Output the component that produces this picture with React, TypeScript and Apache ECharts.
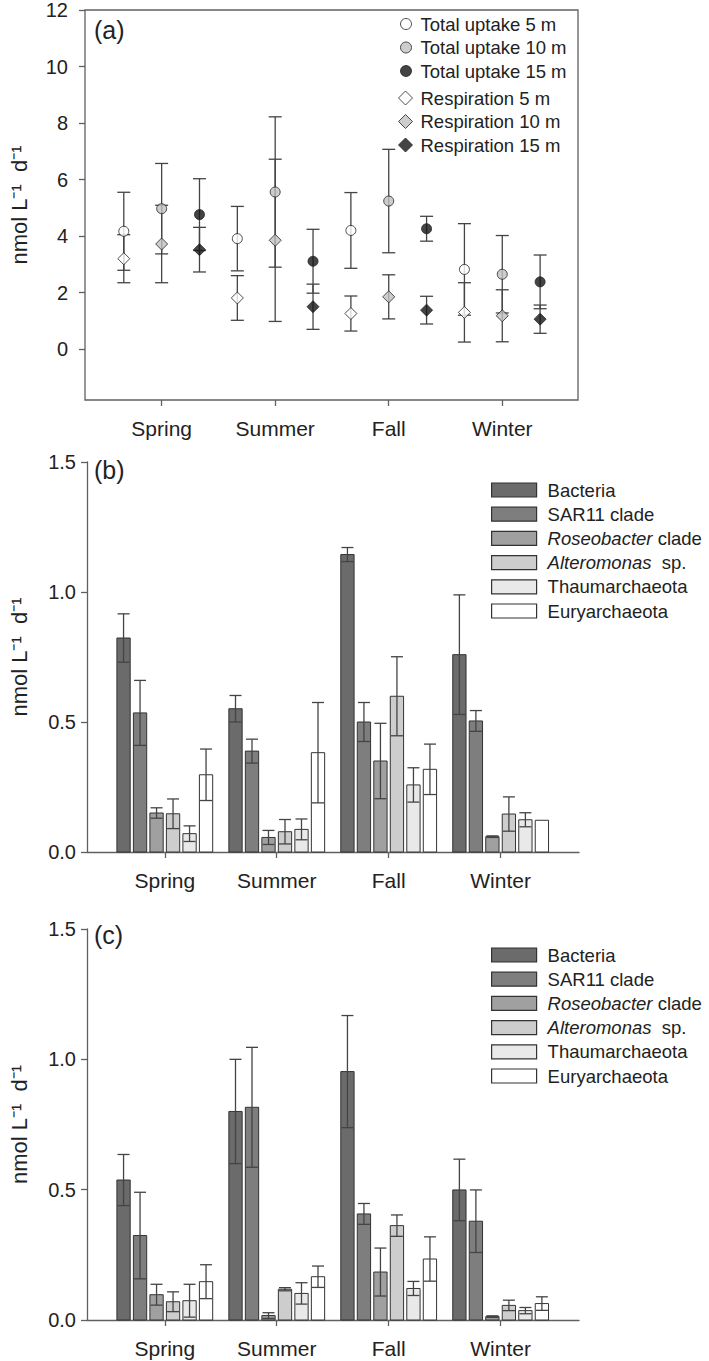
import React, { useEffect, useRef } from "react";
import * as echarts from "echarts";

const SEASONS = ["Spring", "Summer", "Fall", "Winter"];

// Panel (a): total uptake and respiration (nmol L-1 d-1), mean and error
const TU5 = [4.17, 3.91, 4.2, 2.82];
const TU5_ERR = [1.38, 1.14, 1.34, 1.62];
const TU10 = [4.97, 5.56, 5.24, 2.65];
const TU10_ERR = [1.6, 2.66, 1.83, 1.37];
const TU15 = [4.76, 3.11, 4.26, 2.38];
const TU15_ERR = [1.27, 1.13, 0.44, 0.95];
const R5 = [3.2, 1.81, 1.26, 1.3];
const R5_ERR = [0.85, 0.79, 0.62, 1.05];
const R10 = [3.72, 3.85, 1.85, 1.18];
const R10_ERR = [1.37, 2.87, 0.78, 0.92];
const R15 = [3.52, 1.5, 1.38, 1.06];
const R15_ERR = [0.79, 0.8, 0.49, 0.5];

// Panel (b)
const B_BACT = [0.823, 0.551, 1.144, 0.759];
const B_BACT_ERR = [0.093, 0.051, 0.027, 0.23];
const B_SAR11 = [0.535, 0.388, 0.5, 0.504];
const B_SAR11_ERR = [0.125, 0.046, 0.075, 0.04];
const B_ROSEO = [0.15, 0.056, 0.35, 0.059];
const B_ROSEO_ERR = [0.02, 0.027, 0.145, 0.003];
const B_ALT = [0.147, 0.078, 0.599, 0.146];
const B_ALT_ERR = [0.057, 0.047, 0.152, 0.066];
const B_THAUM = [0.0705, 0.087, 0.258, 0.124];
const B_THAUM_ERR = [0.03, 0.04, 0.066, 0.027];
const B_EURY = [0.297, 0.382, 0.318, 0.122];
const B_EURY_ERR = [0.099, 0.193, 0.097, 0];

// Panel (c)
const C_BACT = [0.537, 0.8, 0.953, 0.499];
const C_BACT_ERR = [0.098, 0.2, 0.215, 0.118];
const C_SAR11 = [0.324, 0.816, 0.407, 0.379];
const C_SAR11_ERR = [0.166, 0.23, 0.04, 0.12];
const C_ROSEO = [0.097, 0.017, 0.184, 0.013];
const C_ROSEO_ERR = [0.04, 0.011, 0.092, 0.003];
const C_ALT = [0.07, 0.118, 0.362, 0.056];
const C_ALT_ERR = [0.038, 0.006, 0.041, 0.02];
const C_THAUM = [0.074, 0.102, 0.121, 0.036];
const C_THAUM_ERR = [0.063, 0.041, 0.027, 0.012];
const C_EURY = [0.147, 0.166, 0.234, 0.063];
const C_EURY_ERR = [0.065, 0.041, 0.085, 0.026];

const A_TICKS = [0, 2, 4, 6, 8, 10, 12];

const TAXA = [
  "Bacteria",
  "SAR11 clade",
  "Roseobacter clade",
  "Alteromonas sp.",
  "Thaumarchaeota",
  "Euryarchaeota",
];
const TAXA_COLORS = ["#6b6b6b", "#7e7e7e", "#a0a0a0", "#cdcdcd", "#e9e9e9", "#ffffff"];

const FONT = "'Liberation Sans', Arial, Helvetica, sans-serif";
const TXT = "#222";
const AX = "#606060";
const ERRC = "#444";

export default function App() {
  const ref = useRef<HTMLDivElement>(null);

  useEffect(() => {
    if (!ref.current) return;
    const chart = echarts.init(ref.current, null, { renderer: "svg" });

    const catLabel = (v: number) => {
      const i = Math.round(v) - 1;
      return SEASONS[i] || "";
    };

    const xAxisBase = (gridIndex: number, min: number, max: number, showLine: boolean) => ({
      type: "value",
      gridIndex,
      min,
      max,
      splitLine: { show: false },
      axisLine: { show: showLine, onZero: false, lineStyle: { color: AX, width: 1.3 } },
      axisTick: {
        show: true,
        length: 6,
        customValues: [1, 2, 3, 4],
        lineStyle: { color: AX, width: 1.3 },
      },
      axisLabel: {
        customValues: [1, 2, 3, 4],
        formatter: catLabel,
        fontSize: 21,
        color: TXT,
        fontFamily: FONT,
        margin: 18,
      },
    });

    const yName = "nmol L\u207B\u00B9  d\u207B\u00B9";

    const yAxisA = {
      type: "value",
      gridIndex: 0,
      min: -1.8,
      max: 12,
      splitLine: { show: false },
      axisLine: { show: false, onZero: false },
      axisTick: { show: true, length: 6, customValues: A_TICKS, lineStyle: { color: AX, width: 1.3 } },
      axisLabel: {
        customValues: A_TICKS,
        fontSize: 20,
        color: TXT,
        fontFamily: FONT,
        margin: 17,
      },
      name: yName,
      nameLocation: "middle",
      nameGap: 55,
      nameRotate: 90,
      nameTextStyle: { fontSize: 22, color: TXT, fontFamily: FONT },
    };

    const yAxisBC = (gridIndex: number) => ({
      type: "value",
      gridIndex,
      min: 0,
      max: 1.5,
      interval: 0.5,
      splitLine: { show: false },
      axisLine: { show: true, onZero: false, lineStyle: { color: AX, width: 1.3 } },
      axisTick: { show: true, length: 6, lineStyle: { color: AX, width: 1.3 } },
      axisLabel: {
        fontSize: 20,
        color: TXT,
        fontFamily: FONT,
        margin: 11,
        formatter: (v: number) => v.toFixed(1),
      },
      name: yName,
      nameLocation: "middle",
      nameGap: 57,
      nameRotate: 90,
      nameTextStyle: { fontSize: 22, color: TXT, fontFamily: FONT },
    });

    // ---------- Panel (a) ----------
    const aSets = [
      { name: "Total uptake 5 m", vals: TU5, errs: TU5_ERR, off: -1 / 3, sym: "circle", fill: "#ffffff" },
      { name: "Total uptake 10 m", vals: TU10, errs: TU10_ERR, off: 0, sym: "circle", fill: "#c0c0c0" },
      { name: "Total uptake 15 m", vals: TU15, errs: TU15_ERR, off: 1 / 3, sym: "circle", fill: "#151515" },
      { name: "Respiration 5 m", vals: R5, errs: R5_ERR, off: -1 / 3, sym: "diamond", fill: "#ffffff" },
      { name: "Respiration 10 m", vals: R10, errs: R10_ERR, off: 0, sym: "diamond", fill: "#c0c0c0" },
      { name: "Respiration 15 m", vals: R15, errs: R15_ERR, off: 1 / 3, sym: "diamond", fill: "#151515" },
    ];

    const aErrData: number[][] = [];
    aSets.forEach((s) => {
      s.vals.forEach((v, i) => aErrData.push([i + 1 + s.off, v, s.errs[i]]));
    });

    const errRender = (capW: number) => (params: any, api: any) => {
      const x = api.value(0);
      const v = api.value(1);
      const e = api.value(2);
      const hi = api.coord([x, v + e]);
      const lo = api.coord([x, v - e]);
      const st = { stroke: ERRC, lineWidth: 1.3 };
      return {
        type: "group",
        children: [
          { type: "line", shape: { x1: hi[0], y1: hi[1], x2: lo[0], y2: lo[1] }, style: st },
          { type: "line", shape: { x1: hi[0] - capW / 2, y1: hi[1], x2: hi[0] + capW / 2, y2: hi[1] }, style: st },
          { type: "line", shape: { x1: lo[0] - capW / 2, y1: lo[1], x2: lo[0] + capW / 2, y2: lo[1] }, style: st },
        ],
      };
    };

    const aSeries: any[] = [
      {
        type: "custom",
        name: "errA",
        xAxisIndex: 0,
        yAxisIndex: 0,
        renderItem: errRender(13),
        data: aErrData,
        z: 2,
        silent: true,
      },
      ...aSets.map((s) => ({
        type: "scatter",
        name: s.name,
        xAxisIndex: 0,
        yAxisIndex: 0,
        symbol: s.sym,
        symbolSize: s.sym === "circle" ? 10 : 12,
        itemStyle: { color: s.fill, borderColor: "#222", borderWidth: 1 },
        data: s.vals.map((v, i) => [i + 1 + s.off, v]),
        z: 3,
      })),
    ];

    // ---------- Panels (b), (c) ----------
    const PITCH = 16.5;
    const BW = 13.3;
    const CAPW = 12;

    const bSets = [
      [B_BACT, B_BACT_ERR],
      [B_SAR11, B_SAR11_ERR],
      [B_ROSEO, B_ROSEO_ERR],
      [B_ALT, B_ALT_ERR],
      [B_THAUM, B_THAUM_ERR],
      [B_EURY, B_EURY_ERR],
    ];
    const cSets = [
      [C_BACT, C_BACT_ERR],
      [C_SAR11, C_SAR11_ERR],
      [C_ROSEO, C_ROSEO_ERR],
      [C_ALT, C_ALT_ERR],
      [C_THAUM, C_THAUM_ERR],
      [C_EURY, C_EURY_ERR],
    ];

    const barRender = (j: number) => (params: any, api: any) => {
      const x = api.value(0);
      const v = api.value(1);
      const e = api.value(2);
      const base = api.coord([x, 0]);
      const top = api.coord([x, v]);
      const xc = base[0] + (j - 2.5) * PITCH;
      const children: any[] = [
        {
          type: "rect",
          shape: { x: xc - BW / 2, y: top[1], width: BW, height: base[1] - top[1] },
          style: { fill: TAXA_COLORS[j], stroke: "#333", lineWidth: 1 },
        },
      ];
      if (e > 0) {
        const hi = api.coord([x, v + e])[1];
        const lo = api.coord([x, v - e])[1];
        const st = { stroke: ERRC, lineWidth: 1.3 };
        children.push(
          { type: "line", shape: { x1: xc, y1: hi, x2: xc, y2: lo }, style: st },
          { type: "line", shape: { x1: xc - CAPW / 2, y1: hi, x2: xc + CAPW / 2, y2: hi }, style: st },
          { type: "line", shape: { x1: xc - CAPW / 2, y1: lo, x2: xc + CAPW / 2, y2: lo }, style: st }
        );
      }
      return { type: "group", children };
    };

    const makeBarSeries = (sets: number[][][], axisIndex: number) =>
      sets.map((s, j) => ({
        type: "custom",
        name: TAXA[j],
        xAxisIndex: axisIndex,
        yAxisIndex: axisIndex,
        itemStyle: { color: TAXA_COLORS[j], borderColor: "#333", borderWidth: 1 },
        renderItem: barRender(j),
        data: s[0].map((v, i) => [i + 1, v, s[1][i]]),
      }));

    const legendFmt = (name: string) => {
      if (name === "Roseobacter clade") return "{i|Roseobacter} clade";
      if (name === "Alteromonas sp.") return "{i|Alteromonas}  sp.";
      return name;
    };

    const taxaLegend = (top: number) => ({
      orient: "vertical",
      left: 486,
      top,
      itemWidth: 45,
      itemHeight: 14,
      itemGap: 4.2,
      selectedMode: false,
      formatter: legendFmt,
      textStyle: {
        fontSize: 18.5,
        lineHeight: 20,
        color: TXT,
        fontFamily: FONT,
        padding: [0, 0, 0, 6],
        rich: { i: { fontStyle: "italic", fontSize: 18.5, color: TXT, fontFamily: FONT } },
      },
      data: TAXA.map((n, j) => ({
        name: n,
        icon: "rect",
        itemStyle: { color: TAXA_COLORS[j], borderColor: "#333", borderWidth: 1.2 },
      })),
    });

    const aLegend = (top: number, names: any[], size: number, left: number, pad: number) => ({
      orient: "vertical",
      left,
      top,
      itemWidth: size,
      itemHeight: size,
      itemGap: 23.5 - 20,
      selectedMode: false,
      textStyle: { fontSize: 18.5, lineHeight: 20, color: TXT, fontFamily: FONT, padding: [0, 0, 0, pad] },
      data: names.map((s) => ({
        name: s.name,
        icon: s.sym,
        itemStyle: { color: s.fill, borderColor: "#222", borderWidth: 1 },
      })),
    });

    const option: any = {
      animation: false,
      backgroundColor: "#ffffff",
      textStyle: { fontFamily: FONT },
      grid: [
        { left: 83, top: 9, width: 495, height: 391, show: true, borderColor: AX, borderWidth: 1.3, backgroundColor: "transparent", containLabel: false },
        { left: 85, top: 462, width: 494, height: 390, containLabel: false },
        { left: 85, top: 929, width: 494, height: 391, containLabel: false },
      ],
      xAxis: [
        xAxisBase(0, 0.325, 4.667, false),
        xAxisBase(1, 0.305, 4.7, true),
        xAxisBase(2, 0.305, 4.7, true),
      ],
      yAxis: [yAxisA, yAxisBC(1), yAxisBC(2)],
      legend: [
        aLegend(9, aSets.slice(0, 3), 11, 395, 4),
        aLegend(83, aSets.slice(3), 14, 393, 3),
        taxaLegend(475),
        taxaLegend(940),
      ],
      graphic: [
        { type: "text", left: 94, top: 17, style: { text: "(a)", fontSize: 25, fill: TXT, fontFamily: FONT } },
        { type: "text", left: 94, top: 457, style: { text: "(b)", fontSize: 25, fill: TXT, fontFamily: FONT } },
        { type: "text", left: 94, top: 922, style: { text: "(c)", fontSize: 25, fill: TXT, fontFamily: FONT } },
      ],
      series: [...aSeries, ...makeBarSeries(bSets, 1), ...makeBarSeries(cSets, 2)],
    };

    chart.setOption(option);
    return () => chart.dispose();
  }, []);

  return (
    <div
      ref={ref}
      style={{ position: "absolute", left: 0, top: 0, width: 709, height: 1361, background: "#fff" }}
    />
  );
}
